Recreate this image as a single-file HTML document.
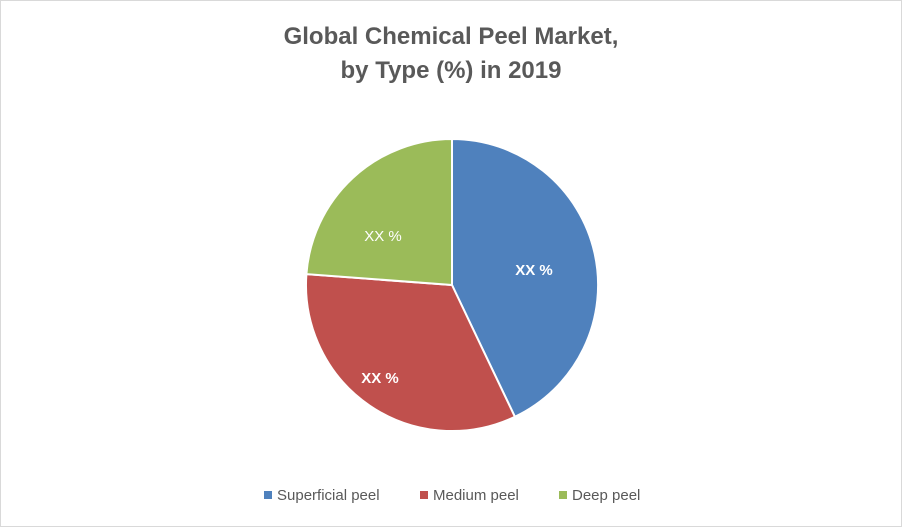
<!DOCTYPE html>
<html><head><style>
body{margin:0;background:#fff;}
.w{position:relative;width:900px;height:525px;border:1px solid #d9d9d9;background:#fff;font-family:"Liberation Sans",sans-serif;}
.t{position:absolute;left:0;width:900px;text-align:center;color:#595959;font-weight:bold;font-size:24px;}
</style></head><body>
<div class="w">
<div class="t" style="top:22px">Global Chemical Peel Market,</div>
<div class="t" style="top:56px">by Type (%) in 2019</div>
<svg width="900" height="525" style="position:absolute;left:0;top:0">
<g stroke="#fff" stroke-width="2">
<path d="M451,284 L451,138 A146,146 0 0 1 513.9,415.8 Z" fill="#4f81bd"/>
<path d="M451,284 L513.9,415.8 A146,146 0 0 1 305.4,273.1 Z" fill="#c0504d"/>
<path d="M451,284 L305.4,273.1 A146,146 0 0 1 451,138 Z" fill="#9bbb59"/>
</g>
<g fill="#fff" font-size="15" font-family="Liberation Sans,sans-serif" text-anchor="middle">
<text x="533" y="274" font-weight="bold">XX %</text>
<text x="379" y="382" font-weight="bold">XX %</text>
<text x="382" y="240">XX %</text>
</g>
<g font-size="15" fill="#595959" font-family="Liberation Sans,sans-serif">
<rect x="263" y="490" width="8" height="8" fill="#4f81bd"/><text x="276" y="499">Superficial peel</text>
<rect x="419" y="490" width="8" height="8" fill="#c0504d"/><text x="432" y="499">Medium peel</text>
<rect x="558" y="490" width="8" height="8" fill="#9bbb59"/><text x="571" y="499">Deep peel</text>
</g>
</svg>
</div>
</body></html>
